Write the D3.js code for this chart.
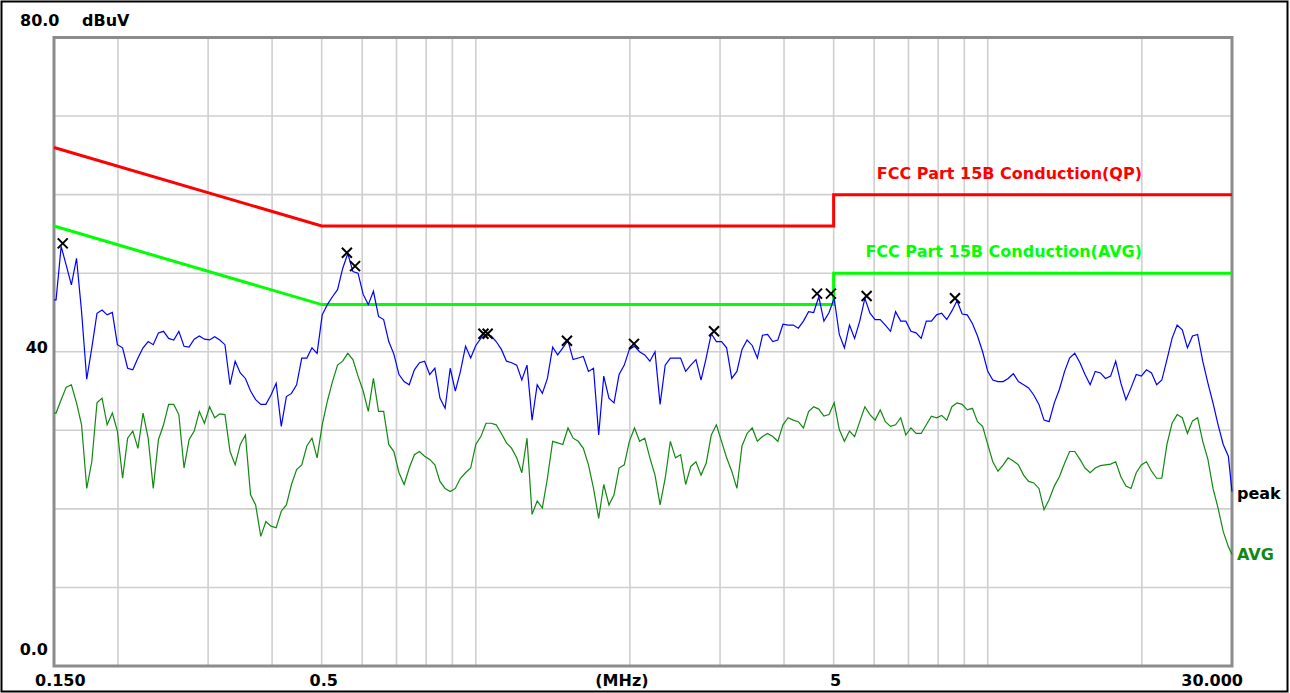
<!DOCTYPE html>
<html>
<head>
<meta charset="utf-8">
<script src="https://cdn.jsdelivr.net/npm/d3@7"></script>
<style>
  html, body { margin: 0; padding: 0; background: #fff; }
  svg { display: block; }
</style>
</head>
<body>
<div id="app"></div>
<script>
'use strict';

// sweep frequencies (MHz)
const sweepMHz = [
  0.150, 0.1514, 0.1549, 0.1585, 0.1622, 0.1660, 0.1698, 0.1738, 0.1778, 0.1820,
  0.1862, 0.1905, 0.1950, 0.1995, 0.2042, 0.2089, 0.2138, 0.2188, 0.2239, 0.2291,
  0.2344, 0.2399, 0.2455, 0.2512, 0.2570, 0.2630, 0.2692, 0.2754, 0.2818, 0.2884,
  0.2951, 0.3020, 0.3090, 0.3162, 0.3236, 0.3311, 0.3388, 0.3467, 0.3548, 0.3631,
  0.3715, 0.3802, 0.3890, 0.3981, 0.4074, 0.4169, 0.4266, 0.4365, 0.4467, 0.4571,
  0.4677, 0.4786, 0.4898, 0.5012, 0.5129, 0.5248, 0.5370, 0.5495, 0.5623, 0.5754,
  0.5888, 0.6026, 0.6166, 0.6310, 0.6457, 0.6607, 0.6761, 0.6918, 0.7079, 0.7244,
  0.7413, 0.7586, 0.7762, 0.7943, 0.8128, 0.8318, 0.8511, 0.8710, 0.8913, 0.9120,
  0.9333, 0.9550, 0.9772,
  1.000, 1.023, 1.047, 1.072, 1.096, 1.122, 1.148, 1.175, 1.202, 1.230,
  1.259, 1.288, 1.318, 1.349, 1.380, 1.413, 1.445, 1.479, 1.514, 1.549,
  1.585, 1.622, 1.660, 1.698, 1.738, 1.778, 1.820, 1.862, 1.905, 1.950,
  1.995, 2.042, 2.089, 2.138, 2.188, 2.239, 2.291, 2.344, 2.399, 2.455,
  2.512, 2.570, 2.630, 2.692, 2.754, 2.818, 2.884, 2.951, 3.020, 3.090,
  3.162, 3.236, 3.311, 3.388, 3.467, 3.548, 3.631, 3.715, 3.802, 3.890,
  3.981, 4.074, 4.169, 4.266, 4.365, 4.467, 4.571, 4.677, 4.786, 4.898,
  5.012, 5.129, 5.248, 5.370, 5.495, 5.623, 5.754, 5.888, 6.026, 6.166,
  6.310, 6.457, 6.607, 6.761, 6.918, 7.079, 7.244, 7.413, 7.586, 7.762,
  7.943, 8.128, 8.318, 8.511, 8.710, 8.913, 9.120, 9.333, 9.550, 9.772,
  10.00, 10.23, 10.47, 10.72, 10.96, 11.22, 11.48, 11.75, 12.02, 12.30,
  12.59, 12.88, 13.18, 13.49, 13.80, 14.13, 14.45, 14.79, 15.14, 15.49,
  15.85, 16.22, 16.60, 16.98, 17.38, 17.78, 18.20, 18.62, 19.05, 19.50,
  19.95, 20.42, 20.89, 21.38, 21.88, 22.39, 22.91, 23.44, 23.99, 24.55,
  25.12, 25.70, 26.30, 26.92, 27.54, 28.18, 28.84, 29.51,
  30.00
];

// peak detector trace (dBuV)
const peakDb = [
  46.6, 46.6, 53.4, 51.0, 48.5, 51.9, 45.1, 36.5, 40.5, 44.9,
  45.3, 44.7, 45.0, 40.9, 40.5, 37.9, 37.7, 39.2, 40.5, 41.3,
  40.9, 42.4, 42.6, 41.7, 41.5, 42.6, 40.7, 40.6, 41.6, 42.0,
  41.6, 41.5, 41.9, 41.5, 40.9, 35.8, 38.8, 37.3, 36.6, 35.0,
  33.9, 33.3, 33.3, 34.5, 36.0, 30.5, 34.3, 34.7, 35.8, 39.2,
  39.2, 40.5, 39.8, 44.7, 46.0, 47.0, 47.9, 50.6, 52.5, 50.2,
  50.0, 47.3, 46.0, 47.7, 44.5, 44.1, 41.3, 39.7, 37.1, 36.2,
  35.8, 37.7, 38.6, 38.8, 37.1, 37.9, 34.1, 32.8, 37.9, 35.0,
  37.5, 40.7, 39.2,
  40.8, 41.7, 42.2, 42.0, 41.3, 40.3, 38.8, 38.6, 38.3, 36.4,
  38.3, 31.3, 35.8, 34.7, 36.6, 40.6, 39.6, 40.5, 41.4, 39.0,
  39.2, 39.4, 37.5, 37.9, 29.4, 36.9, 34.1, 33.5, 37.1, 38.3,
  40.3, 40.7, 40.0, 39.6, 38.8, 40.0, 33.3, 38.3, 39.2, 39.2,
  39.2, 37.5, 38.3, 39.0, 36.4, 39.2, 42.3, 41.3, 41.3, 40.5,
  36.6, 37.5, 40.3, 41.5, 40.8, 39.2, 42.1, 42.2, 41.3, 41.5,
  43.5, 43.4, 43.4, 43.0, 43.9, 45.1, 45.0, 47.0, 43.9, 45.0,
  46.8, 42.2, 40.5, 43.4, 41.7, 43.9, 46.8, 44.9, 44.1, 44.1,
  43.4, 42.6, 45.1, 43.9, 43.9, 42.6, 42.4, 41.7, 43.9, 43.9,
  44.7, 44.9, 44.1, 45.2, 46.5, 44.8, 44.7, 43.6, 42.0, 40.0,
  37.5, 36.4, 36.2, 36.2, 36.6, 37.2, 36.2, 35.8, 35.4, 34.5,
  33.3, 31.3, 31.1, 33.5, 35.2, 37.5, 39.2, 39.8, 38.6, 37.1,
  35.8, 37.5, 37.3, 36.6, 36.9, 38.8, 36.0, 33.9, 35.4, 37.1,
  36.9, 37.7, 37.3, 35.8, 36.4, 39.0, 41.7, 43.4, 42.8, 40.5,
  42.0, 42.2, 38.8, 36.0, 33.5, 30.7, 28.2, 26.7,
  22.2
];

// average detector trace (dBuV)
const avgDb = [
  32.2, 32.2, 33.9, 35.5, 35.8, 33.5, 30.7, 22.6, 26.0, 33.5,
  34.1, 30.7, 32.2, 29.9, 23.9, 29.0, 29.9, 27.7, 32.2, 29.0,
  22.6, 28.8, 30.7, 33.3, 33.3, 32.0, 25.2, 28.8, 29.9, 32.4,
  30.9, 33.0, 31.6, 32.1, 32.0, 27.3, 25.6, 28.2, 29.4, 21.8,
  20.5, 16.5, 18.4, 17.8, 17.6, 19.7, 20.5, 23.1, 25.0, 25.6,
  28.0, 29.0, 26.5, 30.7, 33.7, 36.2, 38.3, 38.8, 39.8, 39.0,
  36.9, 35.0, 32.4, 36.6, 32.4, 32.4, 28.2, 27.3, 24.6, 23.1,
  25.2, 26.9, 27.3, 26.7, 26.3, 25.6, 23.5, 22.6, 22.2, 22.6,
  23.9, 24.6, 25.2,
  28.2, 29.2, 30.9, 30.9, 30.7, 29.6, 28.4, 27.7, 26.5, 24.6,
  29.0, 19.3, 21.0, 20.1, 23.9, 28.6, 28.4, 28.2, 30.3, 29.0,
  28.6, 27.7, 25.6, 22.6, 18.8, 23.1, 20.5, 21.8, 25.2, 25.6,
  28.6, 30.3, 28.6, 29.0, 26.5, 24.3, 20.5, 23.9, 28.6, 26.5,
  26.9, 23.1, 25.4, 26.0, 24.3, 25.8, 29.4, 30.7, 28.6, 26.5,
  24.8, 22.6, 28.0, 29.6, 30.3, 28.6, 29.2, 29.6, 29.2, 28.6,
  30.7, 31.6, 31.3, 31.1, 30.3, 32.4, 33.0, 32.7, 31.8, 32.0,
  33.5, 30.1, 28.6, 29.9, 29.2, 31.1, 33.0, 32.0, 31.3, 32.6,
  31.1, 30.5, 30.7, 31.6, 29.4, 30.3, 29.6, 29.6, 30.7, 31.8,
  31.6, 31.9, 31.3, 33.0, 33.5, 33.3, 32.6, 32.8, 31.1, 30.5,
  28.2, 26.0, 24.8, 25.6, 26.5, 26.1, 25.6, 24.3, 23.5, 23.3,
  22.6, 19.9, 21.2, 22.9, 24.1, 25.8, 27.3, 27.3, 26.3, 25.2,
  24.6, 25.2, 25.5, 25.6, 25.7, 26.0, 24.1, 22.9, 22.6, 24.6,
  25.6, 26.0, 24.8, 23.9, 23.9, 28.2, 30.9, 32.0, 31.6, 29.6,
  31.2, 31.6, 28.6, 26.3, 22.6, 20.1, 17.1, 15.2,
  14.2
];

// FCC Part 15B conducted limits
const limitMHz = [0.15, 0.5, 5, 5, 30];
const qpLimitDb = [66, 56, 56, 60, 60];
const avgLimitDb = [56, 46, 46, 50, 50];

// final measurement points (x marks)
const markerMHz = [0.156, 0.560, 0.581, 1.035, 1.055, 1.507, 2.037, 2.92, 4.64, 4.94, 5.80, 8.63];
const markerDb  = [53.8, 52.6, 50.9, 42.3, 42.3, 41.4, 41.0, 42.6, 47.4, 47.4, 47.1, 46.8];

// grid and tick labels
const xGridMHz = [0.2, 0.3, 0.4, 0.5, 0.6, 0.7, 0.8, 0.9, 1, 2, 3, 4, 5, 6, 7, 8, 9, 10, 20];
const yGridDb = [10, 20, 30, 40, 50, 60, 70];
const xTickMHz = [0.15, 0.5, 5, 30];
const xTickText = ["0.150", "0.5", "5", "30.000"];
const yTickDb = [80, 40, 0];
const yTickText = ["80.0", "40", "0.0"];

const width = 1290;
const height = 693;
const marginTop = 37.5;
const marginRight = 58;
const marginBottom = 27;
const marginLeft = 54;

const x = d3.scaleLog()
  .domain([0.15, 30])
  .range([marginLeft, width - marginRight]);

const y = d3.scaleLinear()
  .domain([0, 80])
  .range([height - marginBottom, marginTop]);

const svg = d3.select("#app")
  .append("svg")
  .attr("width", width)
  .attr("height", height)
  .attr("viewBox", [0, 0, width, height])
  .style("font", "bold 16px 'DejaVu Sans', Verdana, sans-serif");

svg.append("rect")
  .attr("width", width).attr("height", height)
  .attr("fill", "#fff");

// outer frame
svg.append("rect")
  .attr("x", 1.5).attr("y", 1.5)
  .attr("width", width - 4).attr("height", height - 3)
  .attr("fill", "none")
  .attr("stroke", "#000")
  .attr("stroke-width", 2);

// grid
svg.append("g")
    .attr("stroke", "#cfcfcf")
    .attr("stroke-width", 1.6)
  .call(g => g.selectAll("line.v")
    .data(xGridMHz)
    .join("line")
      .attr("class", "v")
      .attr("x1", d => x(d)).attr("x2", d => x(d))
      .attr("y1", marginTop).attr("y2", height - marginBottom))
  .call(g => g.selectAll("line.h")
    .data(yGridDb)
    .join("line")
      .attr("class", "h")
      .attr("y1", d => y(d)).attr("y2", d => y(d))
      .attr("x1", marginLeft).attr("x2", width - marginRight));

// plot border
svg.append("rect")
  .attr("x", x(0.15)).attr("y", y(80))
  .attr("width", x(30) - x(0.15))
  .attr("height", y(0) - y(80))
  .attr("fill", "none")
  .attr("stroke", "#8c8c8c")
  .attr("stroke-width", 3);

const line = d3.line()
  .x(d => x(d[0]))
  .y(d => y(d[1]));

// limit lines
svg.append("path")
  .datum(d3.zip(limitMHz, qpLimitDb))
  .attr("fill", "none")
  .attr("stroke", "#ff0000")
  .attr("stroke-width", 3)
  .attr("d", line);

svg.append("path")
  .datum(d3.zip(limitMHz, avgLimitDb))
  .attr("fill", "none")
  .attr("stroke", "#00ff00")
  .attr("stroke-width", 3)
  .attr("d", line);

// traces
svg.append("path")
  .datum(d3.zip(sweepMHz, avgDb))
  .attr("fill", "none")
  .attr("stroke", "#118811")
  .attr("stroke-width", 1.2)
  .attr("stroke-linejoin", "miter")
  .attr("d", line);

svg.append("path")
  .datum(d3.zip(sweepMHz, peakDb))
  .attr("fill", "none")
  .attr("stroke", "#0000ff")
  .attr("stroke-width", 1.2)
  .attr("stroke-linejoin", "miter")
  .attr("d", line);

// x markers
svg.append("g")
    .attr("stroke", "#000")
    .attr("stroke-width", 2)
  .selectAll("path")
  .data(d3.zip(markerMHz, markerDb))
  .join("path")
    .attr("d", d => {
      const cx = x(d[0]), cy = y(d[1]), s = 5;
      return `M${cx - s},${cy - s}L${cx + s},${cy + s}M${cx - s},${cy + s}L${cx + s},${cy - s}`;
    });

// limit captions
svg.append("text")
  .attr("x", x(30) - 90).attr("y", y(60) - 16)
  .attr("text-anchor", "end")
  .attr("fill", "#ff0000")
  .text("FCC Part 15B Conduction(QP)");

svg.append("text")
  .attr("x", x(30) - 90).attr("y", y(50) - 16)
  .attr("text-anchor", "end")
  .attr("fill", "#00ff00")
  .text("FCC Part 15B Conduction(AVG)");

// trace end labels
svg.append("text")
  .attr("x", x(30) + 5).attr("y", y(peakDb[peakDb.length - 1]) + 7)
  .attr("fill", "#000")
  .text("peak");

svg.append("text")
  .attr("x", x(30) + 5).attr("y", y(avgDb[avgDb.length - 1]) + 6)
  .attr("fill", "#118811")
  .text("AVG");

// axis labels
svg.append("g")
  .selectAll("text")
  .data(xTickMHz)
  .join("text")
    .attr("y", height - 7)
    .attr("x", (d, i) => i === 0 ? x(d) - 19 : i === xTickMHz.length - 1 ? x(d) + 11 : x(d) + 2)
    .attr("text-anchor", (d, i) => i === 0 ? "start" : i === xTickMHz.length - 1 ? "end" : "middle")
    .text((d, i) => xTickText[i]);

svg.append("text")
  .attr("x", x(2) - 8)
  .attr("y", height - 7)
  .attr("text-anchor", "middle")
  .text("(MHz)");

svg.append("g")
  .selectAll("text")
  .data(yTickDb)
  .join("text")
    .attr("x", (d, i) => i === 0 ? 20 : marginLeft - 6)
    .attr("y", (d, i) => i === 0 ? 26 : i === yTickDb.length - 1 ? y(d) - 11 : y(d) + 1)
    .attr("text-anchor", (d, i) => i === 0 ? "start" : "end")
    .text((d, i) => yTickText[i]);

svg.append("text")
  .attr("x", 82).attr("y", 26)
  .text("dBuV");
</script>
</body>
</html>
